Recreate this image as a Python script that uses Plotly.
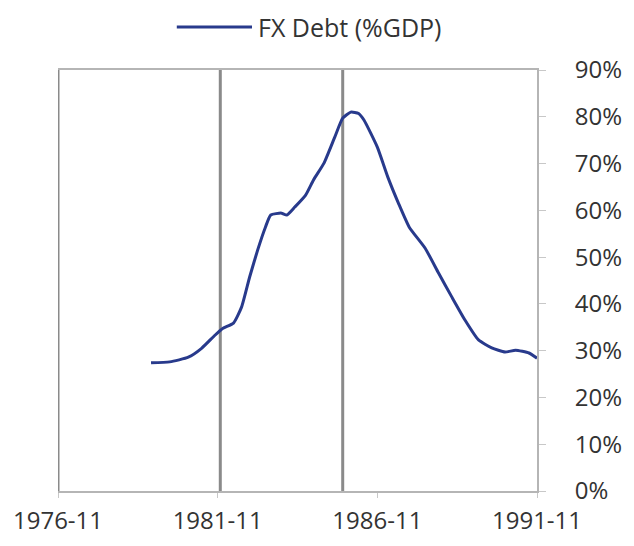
import plotly.graph_objects as go

dates = ["1979-10-01", "1980-05-01", "1980-12-01", "1981-05-01", "1981-10-01", "1982-01-01",
         "1982-05-01", "1982-08-01", "1982-11-01", "1983-02-01", "1983-05-01", "1983-07-01",
         "1983-11-01", "1984-01-01", "1984-04-01", "1984-08-01", "1984-11-01", "1985-03-01",
         "1985-07-01", "1985-10-01", "1986-01-01", "1986-04-01", "1986-06-01", "1986-11-01",
         "1987-03-01", "1987-07-01", "1987-11-01", "1988-05-01", "1988-10-01", "1989-03-01",
         "1989-08-01", "1990-01-01", "1990-06-01", "1990-11-01", "1991-03-01", "1991-08-01",
         "1991-11-01"]
fx_debt = [27.4, 27.6, 28.6, 30.5, 33.3, 34.8,
           35.9, 39.3, 45.7, 51.5, 56.4, 59.0,
           59.4, 59.0, 60.7, 63.2, 66.5, 70.1,
           75.6, 79.7, 81.0, 80.7, 79.3, 73.5,
           67.1, 61.5, 56.4, 51.9, 46.6, 41.5,
           36.5, 32.3, 30.6, 29.7, 30.1, 29.5,
           28.4]
fx_debt = [v / 100 for v in fx_debt]

series_name = "FX Debt (%GDP)"
marker_dates = ["1976-11-01", "1981-12-01", "1985-10-01"]
x_ticks = ["1976-11-01", "1981-11-01", "1986-11-01", "1991-11-01"]
x_tick_labels = ["1976-11", "1981-11", "1986-11", "1991-11"]

line_color = "#283a8c"
text_color = "#333333"

fig = go.Figure()
fig.add_trace(go.Scatter(
    x=dates, y=fx_debt, mode="lines", name=series_name, showlegend=False,
    line=dict(color=line_color, width=3, shape="spline", smoothing=0.5),
))

for d in marker_dates:
    fig.add_shape(type="line", xref="x", yref="paper", x0=d, x1=d, y0=0, y1=1,
                  line=dict(color="#8a8a8a", width=3), layer="below")

# legend drawn above the plot
fig.add_shape(type="line", xref="paper", yref="paper", x0=0.248, x1=0.405, y0=1.102, y1=1.102,
              line=dict(color=line_color, width=3))
fig.add_annotation(xref="paper", yref="paper", x=0.413, y=1.102, xanchor="left", yanchor="middle",
                   text=series_name, showarrow=False, font=dict(size=25, color=text_color))

fig.update_layout(
    width=618, height=530,
    margin=dict(l=50, r=89, t=62, b=47, autoexpand=False),
    paper_bgcolor="white", plot_bgcolor="white",
    font=dict(family="Open Sans, sans-serif", size=24, color=text_color),
    showlegend=False,
    xaxis=dict(
        type="date", range=["1976-11-01", "1991-11-01"],
        tickvals=x_ticks, ticktext=x_tick_labels, automargin=False,
        showgrid=False, zeroline=False,
        showline=True, linecolor="#b5b5b5", linewidth=2, mirror=True,
        ticks="outside", ticklen=5, tickcolor="#c8c8c8", tickwidth=1,
        ticklabelstandoff=2,
    ),
    yaxis=dict(
        side="right", range=[0, 0.9], tickvals=[i / 10 for i in range(10)],
        tickformat=".0%", showgrid=False, zeroline=False, automargin=False,
        showline=True, linecolor="#b5b5b5", linewidth=2,
        ticks="outside", ticklen=7, tickcolor="#c8c8c8", tickwidth=1,
        ticklabelstandoff=24,
    ),
)

fig.write_html("out.html")
